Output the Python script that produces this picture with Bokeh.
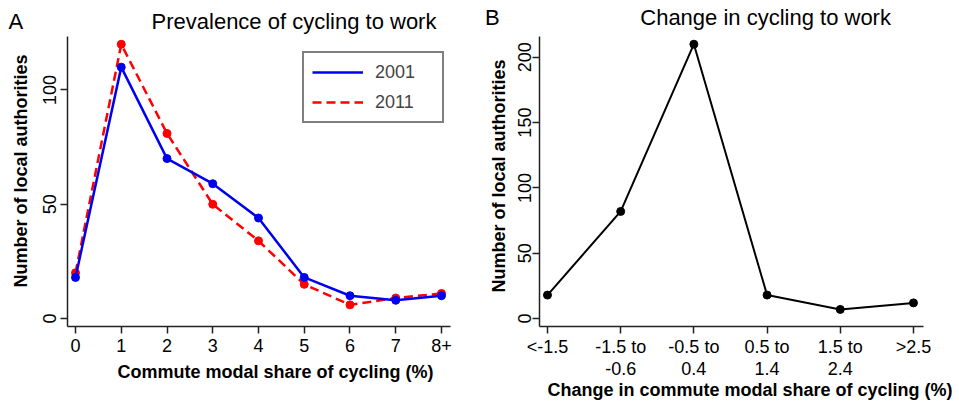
import math
from bokeh.plotting import figure
from bokeh.layouts import row
from bokeh.models import Range1d, FixedTicker, Legend, LegendItem, Title
from bokeh.embed import file_html
from bokeh.resources import INLINE

# ---- data: panel A ----
share_categories = ["0", "1", "2", "3", "4", "5", "6", "7", "8+"]
count_2001 = [18, 110, 70, 59, 44, 18, 10, 8, 10]
count_2011 = [20, 120, 81, 50, 34, 15, 6, 9, 11]
left_y_ticks = [0, 50, 100]

# ---- data: panel B ----
change_categories = ["<-1.5", "-1.5 to\n-0.6", "-0.5 to\n0.4", "0.5 to\n1.4", "1.5 to\n2.4", ">2.5"]
change_counts = [18, 82, 210, 18, 7, 12]
right_y_ticks = [0, 50, 100, 150, 200]

FONT = "Liberation Sans"
AXC = "#222222"
NBSP = "\u00a0"


def style(p):
    p.outline_line_color = None
    p.grid.visible = False
    p.background_fill_color = "white"
    p.border_fill_color = "white"
    for ax in [p.xaxis[0], p.yaxis[0]]:
        ax.axis_line_color = AXC
        ax.axis_line_width = 1.5
        ax.major_tick_line_color = AXC
        ax.major_tick_line_width = 1.5
        ax.major_tick_out = 7
        ax.major_tick_in = 0
        ax.minor_tick_out = 0
        ax.minor_tick_in = 0
        ax.major_label_text_font = FONT
        ax.major_label_text_font_size = "18px"
        ax.major_label_text_color = "black"
    p.yaxis[0].major_label_orientation = "vertical"


def add_title(p, side, text, size, bold, align, valign, offset, standoff):
    t = Title(text=text, align=align, vertical_align=valign, offset=offset,
              standoff=standoff, text_font=FONT, text_font_size=size,
              text_font_style="bold" if bold else "normal", text_color="black")
    p.add_layout(t, side)


# ---------------- Panel A ----------------
x_share = list(range(len(share_categories)))
p1 = figure(width=480, height=403, min_border_left=67, min_border_right=30,
            min_border_top=33, min_border_bottom=77,
            x_range=Range1d(-0.175, 8.197), y_range=Range1d(-3.46, 123.4),
            output_backend="svg", toolbar_location=None, title_location=None)
style(p1)
p1.xaxis[0].ticker = FixedTicker(ticks=x_share)
p1.xaxis[0].major_label_overrides = {i: c for i, c in enumerate(share_categories)}
p1.xaxis[0].major_label_standoff = 5
p1.yaxis[0].ticker = FixedTicker(ticks=left_y_ticks)
p1.yaxis[0].major_label_standoff = 4

RED = "#FF0000"
BLUE = "#0000F0"
l11 = p1.line(x_share, count_2011, line_color=RED, line_width=2.5, line_dash="9 5")
p1.scatter(x_share, count_2011, size=8, fill_color=RED, line_color=RED)
l01 = p1.line(x_share, count_2001, line_color=BLUE, line_width=2.5)
p1.scatter(x_share, count_2001, size=8, fill_color=BLUE, line_color=BLUE)

legend = Legend(items=[LegendItem(label="2001", renderers=[l01]),
                       LegendItem(label="2011", renderers=[l11])],
                location=(235, 203))
legend.border_line_color = "black"
legend.border_line_width = 2
legend.padding = 8
legend.spacing = 8
legend.margin = 0
legend.glyph_width = 51
legend.glyph_height = 22
legend.label_height = 22
legend.label_standoff = 12
legend.label_width = 59
legend.label_text_font = FONT
legend.label_text_font_size = "18px"
legend.background_fill_color = "white"
legend.background_fill_alpha = 1
p1.add_layout(legend)

add_title(p1, "above", "A" + NBSP * 21 + "Prevalence of cycling to work", "22px", False,
          "left", "top", -59, -0.5)
add_title(p1, "below", "Commute modal share of cycling (%)", "18px", True,
          "left", "bottom", 50, 11)
add_title(p1, "left", "Number of local authorities", "18px", True,
          "left", "top", 39, 14.6)

# ---------------- Panel B ----------------
x_change = list(range(len(change_categories)))
p2 = figure(width=479, height=403, min_border_left=59, min_border_right=36,
            min_border_top=33, min_border_bottom=77,
            x_range=Range1d(-0.109, 5.137), y_range=Range1d(-6.06, 215.9),
            output_backend="svg", toolbar_location=None, title_location=None)
style(p2)
p2.xaxis[0].ticker = FixedTicker(ticks=x_change)
p2.xaxis[0].major_label_overrides = {i: c for i, c in enumerate(change_categories)}
p2.xaxis[0].major_label_standoff = 3
p2.xaxis[0].major_label_text_line_height = 1.1
p2.yaxis[0].ticker = FixedTicker(ticks=right_y_ticks)
p2.yaxis[0].major_label_standoff = 1

p2.line(x_change, change_counts, line_color="black", line_width=2)
p2.scatter(x_change, change_counts, size=8, fill_color="black", line_color="black")

add_title(p2, "above", "B" + NBSP * 23 + "Change in cycling to work", "22px", False,
          "left", "top", -54.5, 9)
add_title(p2, "below", "Change in commute modal share of cycling (%)", "18px", True,
          "left", "bottom", 8, -7)
add_title(p2, "left", "Number of local authorities", "18px", True,
          "left", "top", 34, 7.6)

layout = row(p1, p2)
open("out.html", "w").write(file_html(layout, INLINE))
